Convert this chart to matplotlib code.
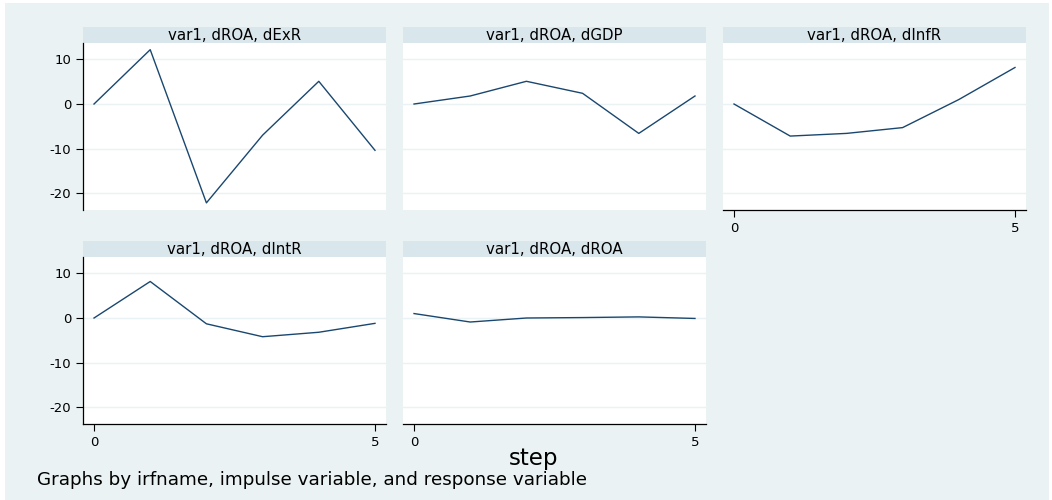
import matplotlib
matplotlib.use('Agg')
import matplotlib.pyplot as plt
from matplotlib.patches import Rectangle

plt.rcParams['font.family'] = ['DejaVu Sans']
plt.rcParams['axes.unicode_minus'] = False

steps = [0, 1, 2, 3, 4, 5]
titles = ['var1, dROA, dExR', 'var1, dROA, dGDP', 'var1, dROA, dInfR',
          'var1, dROA, dIntR', 'var1, dROA, dROA']
dExR = [0, 12.2, -22.2, -7.0, 5.1, -10.4]
dGDP = [0, 1.8, 5.1, 2.4, -6.6, 1.8]
dInfR = [0, -7.2, -6.6, -5.3, 1.0, 8.2]
dIntR = [0, 8.2, -1.3, -4.2, -3.2, -1.2]
dROA = [1.0, -0.9, 0.0, 0.1, 0.25, -0.1]
series = [dExR, dGDP, dInfR, dIntR, dROA]
yticks = [-20, -10, 0, 10]
xticks = [0, 5]

BG = '#eaf2f3'
STRIP = '#d9e6eb'
LINE = '#1a476f'
W, H = 1052, 500

fig = plt.figure(figsize=(W / 100, H / 100), dpi=100, facecolor='white')
# light graph region inside a thin white border
fig.patches.append(Rectangle((5 / W, 0), (W - 8) / W, (H - 3) / H,
                             transform=fig.transFigure, facecolor=BG, edgecolor='none', zorder=-10))

# pixel layout: (left x, strip top y, plot bottom y)
lefts = [83, 403, 723]
rows = [(27, 210), (241, 424)]
pw, sh = 303, 16

for i, (t, s) in enumerate(zip(titles, series)):
    r, c = divmod(i, 3)
    x0 = lefts[c]
    top, bot = rows[r]
    # strip
    sax = fig.add_axes([x0 / W, 1 - (top + sh) / H, pw / W, sh / H])
    sax.set_facecolor(STRIP)
    sax.set_xticks([]); sax.set_yticks([])
    for sp in sax.spines.values():
        sp.set_visible(False)
    sax.text(0.5, 0.45, t, ha='center', va='center', fontsize=10.8, transform=sax.transAxes)
    # plot
    ax = fig.add_axes([x0 / W, 1 - bot / H, pw / W, (bot - top - sh) / H])
    ax.plot(steps, s, color=LINE, lw=1.0)
    ax.set_xlim(-0.196, 5.196)
    ax.set_ylim(-23.8, 13.7)
    ax.set_yticks(yticks)
    ax.set_xticks(xticks)
    ax.grid(axis='y', color=BG, lw=1)
    ax.set_axisbelow(True)
    for sp in ax.spines.values():
        sp.set_visible(False)
    show_y = c == 0
    show_x = i >= 2
    ax.tick_params(axis='y', left=show_y, labelleft=show_y, length=5, width=0.8, labelsize=9.5)
    ax.tick_params(axis='x', bottom=show_x, labelbottom=show_x, length=5, width=0.8, labelsize=9.5)
    if show_y:
        ax.spines['left'].set_visible(True)
        ax.spines['left'].set_linewidth(0.9)
    if show_x:
        ax.spines['bottom'].set_visible(True)
        ax.spines['bottom'].set_linewidth(0.9)

fig.text(534 / W, 1 - 458 / H, 'step', ha='center', va='center', fontsize=16.5)
fig.text(37 / W, 1 - 480 / H, 'Graphs by irfname, impulse variable, and response variable',
         ha='left', va='center', fontsize=13.2)

fig.savefig('out.png', dpi=100, facecolor='white')
